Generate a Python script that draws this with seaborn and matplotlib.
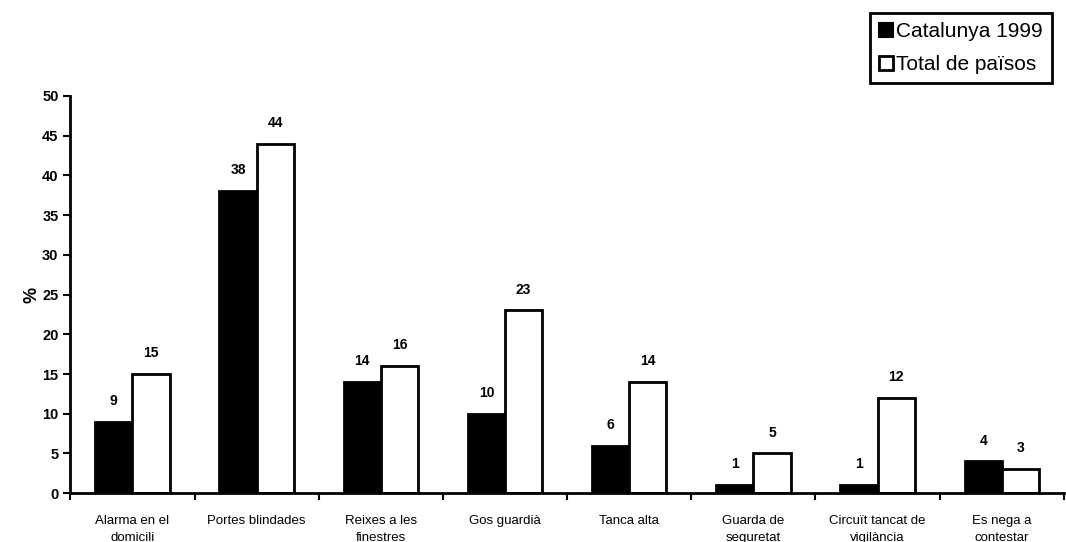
import matplotlib
matplotlib.use("Agg")
import matplotlib.pyplot as plt
from matplotlib.patches import Patch
import seaborn as sns
import pandas as pd

categories = ["Alarma en el\ndomicili", "Portes blindades", "Reixes a les\nfinestres",
              "Gos guardià", "Tanca alta", "Guarda de\nseguretat",
              "Circuït tancat de\nvigilància", "Es nega a\ncontestar"]
catalunya = [9, 38, 14, 10, 6, 1, 1, 4]
total = [15, 44, 16, 23, 14, 5, 12, 3]
series = ["Catalunya 1999", "Total de països"]

df = pd.DataFrame({
    "cat": categories * 2,
    "val": catalunya + total,
    "serie": [series[0]] * len(categories) + [series[1]] * len(categories),
})

sns.set_style("white")
plt.rcParams["font.family"] = ["Liberation Sans", "DejaVu Sans"]
plt.rcParams["text.color"] = "black"
plt.rcParams["xtick.color"] = "black"
plt.rcParams["ytick.color"] = "black"
plt.rcParams["axes.labelcolor"] = "black"
plt.rcParams["axes.edgecolor"] = "black"

fig = plt.figure(figsize=(10.66, 5.42), dpi=100)
ax = fig.add_axes([0.066, 0.09, 0.932, 0.733])

sns.barplot(data=df, x="cat", y="val", hue="serie", order=categories,
            hue_order=series, palette=["black", "white"], width=0.6,
            edgecolor="black", linewidth=2, legend=False, ax=ax)

for cont in ax.containers:
    ax.bar_label(cont, padding=10, fontsize=10, fontweight="bold")

ax.set_ylim(0, 50)
ax.set_xlim(-0.5, len(categories) - 0.5)
ax.set_yticks(range(0, 51, 5))
ax.set_ylabel("%", fontsize=13, fontweight="bold", labelpad=1)
ax.set_xlabel("")
ax.set_xticks([i - 0.5 for i in range(len(categories) + 1)], minor=True)
ax.tick_params(axis="x", which="major", length=0, labelsize=9.5, pad=16)
ax.tick_params(axis="x", which="minor", length=5, width=1.5, direction="out", bottom=True)
ax.tick_params(axis="y", length=5, width=1.5, direction="out", left=True, labelsize=10.5)
for lbl in ax.get_yticklabels():
    lbl.set_fontweight("bold")
for lbl in ax.get_xticklabels():
    lbl.set_linespacing(1.5)

sns.despine(ax=ax)
ax.spines["left"].set_linewidth(2)
ax.spines["bottom"].set_linewidth(2)

handles = [Patch(facecolor="black", edgecolor="black", linewidth=1.5),
           Patch(facecolor="white", edgecolor="black", linewidth=2)]
leg = fig.legend(handles, series, loc="upper left", bbox_to_anchor=(0.816, 0.976),
                 fancybox=False, framealpha=1, edgecolor="black", fontsize=15,
                 handlelength=0.65, handleheight=0.65, handletextpad=0.15,
                 borderpad=0.45, labelspacing=0.65, borderaxespad=0)
leg.get_frame().set_linewidth(2)

fig.savefig("out.png", dpi=100)
